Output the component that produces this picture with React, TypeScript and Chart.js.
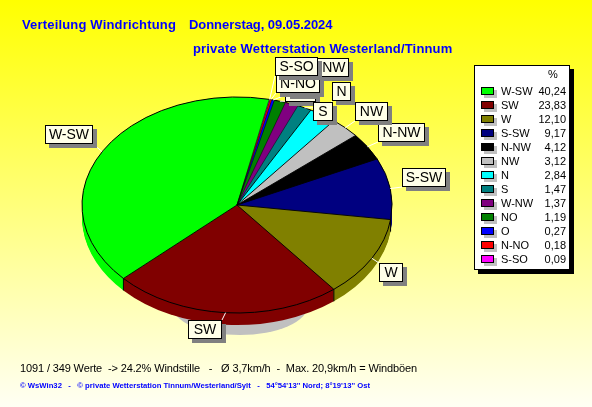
import React, { useEffect, useRef } from "react";
import { Chart, registerables } from "chart.js";

Chart.register(...registerables);

// Values in legend order
const categories = ["W-SW", "SW", "W", "S-SW", "N-NW", "NW", "N", "S", "W-NW", "NO", "O", "N-NO", "S-SO"];
const shares = [40.24, 23.83, 12.1, 9.17, 4.12, 3.12, 2.84, 1.47, 1.37, 1.19, 0.27, 0.18, 0.09];
const colors = ["#00FF00", "#800000", "#808000", "#000080", "#000000", "#C0C0C0", "#00FFFF", "#008080", "#800080", "#008000", "#0000FF", "#FF0000", "#FF00FF"];

const titleLines: [string, number, number, string][] = [
  ["Verteilung Windrichtung", 22, 25, "0.17px"],
  ["Donnerstag, 09.05.2024", 189, 25, "-0.05px"],
  ["private Wetterstation Westerland/Tinnum", 193, 49, "0.17px"],
];
const statsLine = "1091 / 349 Werte  -> 24.2% Windstille   -   Ø 3,7km/h  -  Max. 20,9km/h = Windböen";
const footerLine = "© WsWin32   -   © private Wetterstation Tinnum/Westerland/Sylt   -   54°54'13'' Nord; 8°19'13'' Ost";

// Callout boxes in paint order: [category, left, top, width, height]
const callouts: [string, number, number, number, number][] = [
  ["W-SW", 45, 125, 48, 19],
  ["SW", 188, 320, 34, 19],
  ["W", 379, 263, 24, 19],
  ["S-SW", 402, 168, 44, 19],
  ["N-NW", 378, 123, 47, 19],
  ["NW", 355, 102, 33, 19],
  ["N", 332, 82, 19, 19],
  ["NO", 285, 83, 31, 19],
  ["S", 313, 102, 20, 19],
  ["O", 286, 76, 30, 19],
  ["W-NW", 301, 58, 48, 19],
  ["N-NO", 276, 74, 44, 19],
  ["S-SO", 275, 57, 43, 19],
];

const CX = 237;
const CY = 205;
const RX = 155;
const RY = 108;
const DEPTH = 12;
const SANS = '"Liberation Sans", Arial, sans-serif';

const scaleX = RX / RY;
const toScreenX = (x: number) => CX + (x - CX) * scaleX;

const pie3d = {
  id: "pie3d",
  beforeDraw(chart: any) {
    const { ctx, width, height } = chart;
    const g = ctx.createLinearGradient(0, 0, 0, height);
    g.addColorStop(0, "#FFFF00");
    g.addColorStop(1, "#FFFFF4");
    ctx.fillStyle = g;
    ctx.fillRect(0, 0, width, height);
  },
  beforeDatasetsDraw(chart: any) {
    const { ctx } = chart;
    // soft shadow peeking out under the pie
    ctx.fillStyle = "#C0C0C0";
    ctx.beginPath();
    ctx.ellipse(240, 305, 68, 30, 0, 0, Math.PI * 2);
    ctx.fill();

    const arcs = chart.getDatasetMeta(0).data;
    ctx.save();
    ctx.translate(CX, CY);
    ctx.scale(scaleX, 1);
    ctx.translate(-CX, -CY);
    for (let d = DEPTH; d >= 1; d--) {
      ctx.save();
      ctx.translate(0, d);
      arcs.forEach((a: any) => a.draw(ctx));
      ctx.restore();
    }
    // the datasets are drawn by the library under this same transform
    ctx.save();
  },
  afterDatasetsDraw(chart: any) {
    const { ctx } = chart;
    ctx.restore();
    ctx.restore();
    const arcs = chart.getDatasetMeta(0).data;

    ctx.strokeStyle = "#000";
    arcs.forEach((a: any) => {
      const r = a.outerRadius;
      const ex = (ang: number) => toScreenX(a.x + Math.cos(ang) * r);
      const ey = (ang: number) => a.y + Math.sin(ang) * r;
      // thin hairlines between the narrow slices so their colours stay visible
      ctx.lineWidth = a.circumference < 0.12 ? 0.5 : 0.9;
      ctx.beginPath();
      ctx.moveTo(a.x, a.y);
      ctx.lineTo(ex(a.startAngle), ey(a.startAngle));
      ctx.stroke();
      ctx.lineWidth = 1;
      ctx.beginPath();
      ctx.ellipse(a.x, a.y, r * scaleX, r, 0, a.startAngle, a.endAngle);
      ctx.stroke();
      // vertical seam on the visible front rim
      if (Math.sin(a.startAngle) > 0.05) {
        ctx.beginPath();
        ctx.moveTo(ex(a.startAngle), ey(a.startAngle));
        ctx.lineTo(ex(a.startAngle), ey(a.startAngle) + DEPTH);
        ctx.stroke();
      }
    });

    // leader lines (arcs run in reverse legend order)
    ctx.strokeStyle = "#FFFFFF";
    ctx.lineWidth = 1;
    callouts.forEach(([name, l, t, w, h]) => {
      const a = arcs[categories.length - 1 - categories.indexOf(name)];
      const mid = (a.startAngle + a.endAngle) / 2;
      const px = toScreenX(a.x + Math.cos(mid) * a.outerRadius);
      const py = a.y + Math.sin(mid) * a.outerRadius;
      ctx.beginPath();
      ctx.moveTo(px, py);
      ctx.lineTo(Math.max(l, Math.min(l + w, px)), Math.max(t, Math.min(t + h, py)));
      ctx.stroke();
    });

    // callout boxes
    ctx.textAlign = "center";
    ctx.textBaseline = "middle";
    ctx.font = `14px ${SANS}`;
    callouts.forEach(([name, l, t, w, h]) => {
      ctx.fillStyle = "#808080";
      ctx.fillRect(l + 4, t + 4, w, h);
      ctx.fillStyle = "#FFFFE8";
      ctx.fillRect(l, t, w, h);
      ctx.strokeStyle = "#000";
      ctx.strokeRect(l + 0.5, t + 0.5, w - 1, h - 1);
      ctx.fillStyle = "#000";
      ctx.fillText(name, l + w / 2, t + h / 2 + 1);
    });

    // legend panel
    ctx.fillStyle = "#000";
    ctx.fillRect(478, 69, 96, 205);
    ctx.fillStyle = "#FFFFFF";
    ctx.fillRect(474, 65, 96, 205);
    ctx.strokeStyle = "#000";
    ctx.strokeRect(474.5, 65.5, 95, 204);
    ctx.font = `11px ${SANS}`;
    ctx.fillStyle = "#000";
    ctx.textAlign = "center";
    ctx.fillText("%", 553, 75);
    categories.forEach((name, i) => {
      const y = 91 + i * 14;
      ctx.fillStyle = "#C0C0C0";
      ctx.fillRect(484, y - 1, 13, 8);
      ctx.fillStyle = colors[i];
      ctx.fillRect(481, y - 4, 13, 8);
      ctx.strokeStyle = "#000";
      ctx.strokeRect(481.5, y - 3.5, 12, 7);
      ctx.fillStyle = "#000";
      ctx.textAlign = "left";
      ctx.fillText(name, 501, y + 0.5);
      ctx.textAlign = "right";
      ctx.fillText(shares[i].toFixed(2).replace(".", ","), 566, y + 0.5);
    });

    // titles and footer
    ctx.textAlign = "left";
    ctx.fillStyle = "#0000FF";
    ctx.font = `bold 13px ${SANS}`;
    titleLines.forEach(([text, x, y, spacing]) => {
      ctx.letterSpacing = spacing;
      ctx.fillText(text, x, y);
    });
    ctx.fillStyle = "#000";
    ctx.font = `11px ${SANS}`;
    ctx.letterSpacing = "-0.13px";
    ctx.fillText(statsLine, 20, 369);
    ctx.fillStyle = "#0000FF";
    ctx.font = `bold 7.7px ${SANS}`;
    ctx.letterSpacing = "0px";
    ctx.fillText(footerLine, 20, 386);
  },
};

export default function App() {
  const ref = useRef<HTMLCanvasElement>(null);
  useEffect(() => {
    document.body.style.margin = "0";
    const chart = new Chart(ref.current!, {
      type: "pie",
      // slices run clockwise from the top in reverse legend order
      data: {
        labels: [...categories].reverse(),
        datasets: [
          {
            data: [...shares].reverse(),
            backgroundColor: [...colors].reverse(),
            borderWidth: 0,
            clip: false,
          } as any,
        ],
      },
      options: {
        responsive: false,
        animation: false,
        devicePixelRatio: 1,
        rotation: 12,
        layout: { padding: { left: CX - RY, right: 592 - CX - RY, top: CY - RY, bottom: 407 - CY - RY } },
        plugins: { legend: { display: false }, tooltip: { enabled: false }, title: { display: false } },
      },
      plugins: [pie3d],
    });
    return () => chart.destroy();
  }, []);
  return <canvas ref={ref} width={592} height={407} style={{ display: "block" }} />;
}
